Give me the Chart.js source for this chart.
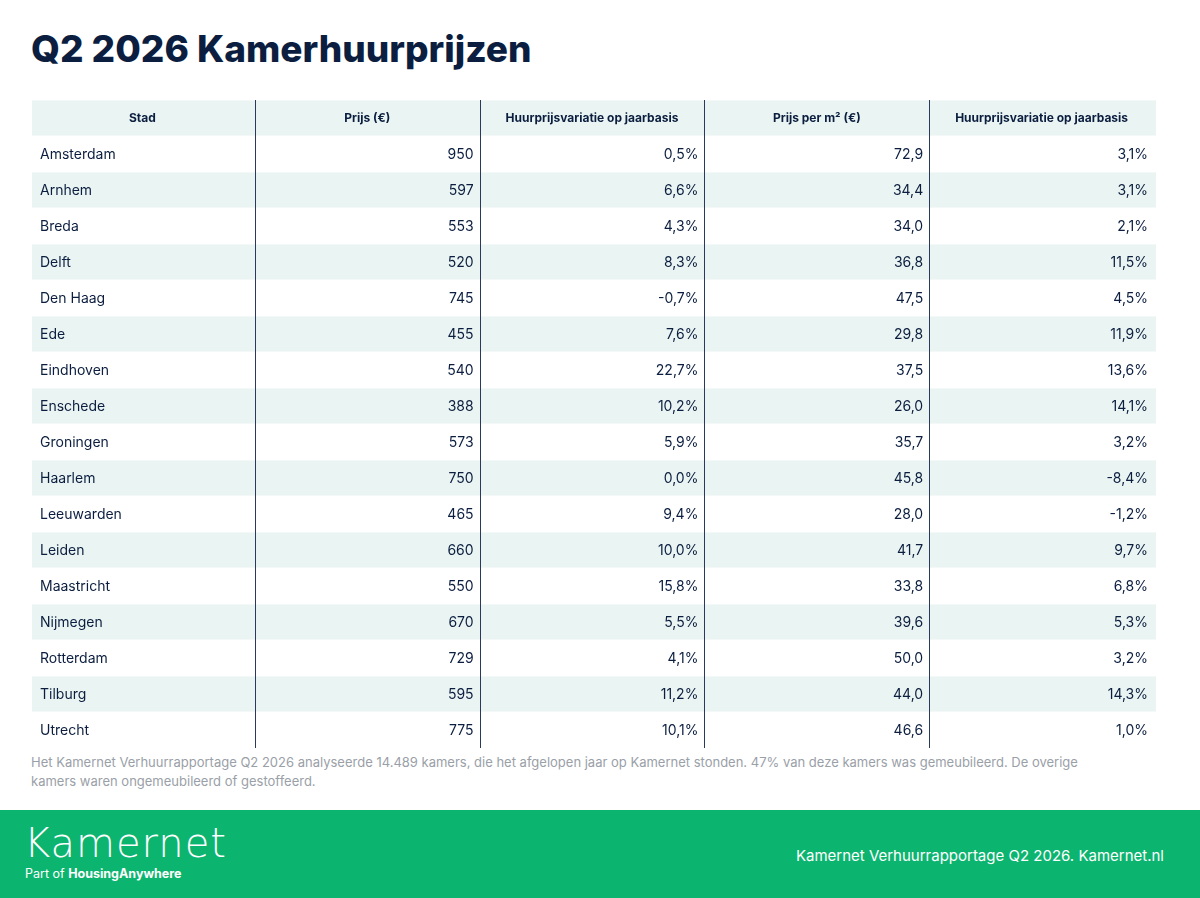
<!DOCTYPE html>
<html><head><meta charset="utf-8">
<script src="https://cdn.jsdelivr.net/npm/chart.js@4"></script>
<style>
  body { margin:0; width:1200px; height:898px; position:relative; font-family: Inter, "Noto Sans", sans-serif; background:#fff; overflow:hidden; }
  h1 { position:absolute; left:31px; top:26px; margin:0; font-size:37px; font-weight:800; color:#0b1e3f; letter-spacing:0px; }
  #wrap { position:absolute; left:32px; top:100px; width:1124px; height:648px; }
  .note { position:absolute; left:31px; top:753px; width:1090px; font-size:13px; line-height:19px; color:#9aa0a8; }
  .foot { position:absolute; left:0; top:810px; width:1200px; height:88px; background:#0bb46f; color:#fff; }
  .logo { position:absolute; left:24px; top:10px; font-size:40px; font-family:"DejaVu Sans", sans-serif; font-weight:300; letter-spacing:1px; }
  .part { position:absolute; left:25px; top:56px; font-size:12.5px; }
  .src { position:absolute; right:36px; top:36px; font-size:15px; }
</style></head>
<body>
<h1>Q2 2026 Kamerhuurprijzen</h1>
<div id="wrap"><canvas id="c"></canvas></div>
<div class="note">Het Kamernet Verhuurrapportage Q2 2026 analyseerde 14.489 kamers, die het afgelopen jaar op Kamernet stonden. 47% van deze kamers was gemeubileerd. De overige kamers waren ongemeubileerd of gestoffeerd.</div>
<div class="foot"><div class="logo">Kamernet</div><div class="part">Part of <b>HousingAnywhere</b></div><div class="src">Kamernet Verhuurrapportage Q2 2026. Kamernet.nl</div></div>
<script>
const headers = ['Stad', 'Prijs (€)', 'Huurprijsvariatie op jaarbasis', 'Prijs per m² (€)', 'Huurprijsvariatie op jaarbasis'];
const cities = ['Amsterdam','Arnhem','Breda','Delft','Den Haag','Ede','Eindhoven','Enschede','Groningen','Haarlem','Leeuwarden','Leiden','Maastricht','Nijmegen','Rotterdam','Tilburg','Utrecht'];
const prices = ['950','597','553','520','745','455','540','388','573','750','465','660','550','670','729','595','775'];
const priceChange = ['0,5%','6,6%','4,3%','8,3%','-0,7%','7,6%','22,7%','10,2%','5,9%','0,0%','9,4%','10,0%','15,8%','5,5%','4,1%','11,2%','10,1%'];
const perM2 = ['72,9','34,4','34,0','36,8','47,5','29,8','37,5','26,0','35,7','45,8','28,0','41,7','33,8','39,6','50,0','44,0','46,6'];
const m2Change = ['3,1%','3,1%','2,1%','11,5%','4,5%','11,9%','13,6%','14,1%','3,2%','-8,4%','-1,2%','9,7%','6,8%','5,3%','3,2%','14,3%','1,0%'];

const rows = ['header', ...cities];
const columns = [cities, prices, priceChange, perM2, m2Change];

const tablePlugin = {
  id: 'table',
  beforeDraw(chart) {
    const { ctx, scales: { x, y } } = chart;
    const left = x.getPixelForValue(0), right = x.getPixelForValue(5);
    const band = y.getPixelForValue(1) - y.getPixelForValue(0);
    ctx.save();
    rows.forEach((r, i) => {
      if (i % 2 === 0) {
        const cy = y.getPixelForValue(i);
        ctx.fillStyle = '#eaf4f2';
        ctx.fillRect(left, cy - band / 2 + 0.5, right - left, band - 1);
      }
    });
    ctx.strokeStyle = '#2a3a5a';
    ctx.lineWidth = 1;
    const top = y.getPixelForValue(0) - band / 2, bottom = y.getPixelForValue(rows.length - 1) + band / 2;
    for (let k = 1; k < 5; k++) {
      const px = Math.round(x.getPixelForValue(k)) - 1.5;
      ctx.beginPath(); ctx.moveTo(px, top); ctx.lineTo(px, bottom); ctx.stroke();
    }
    ctx.textBaseline = 'middle';
    ctx.font = 'bold 12px Inter, sans-serif';
    ctx.fillStyle = '#0b1e3f';
    ctx.textAlign = 'center';
    headers.forEach((h, k) => ctx.fillText(h, x.getPixelForValue(k + 0.5) - 2, y.getPixelForValue(0)));
    ctx.font = '14px Inter, sans-serif';
    columns.forEach((col, k) => {
      col.forEach((v, i) => {
        const cy = y.getPixelForValue(i + 1) + 1;
        if (k === 0) { ctx.textAlign = 'left'; ctx.fillText(v, x.getPixelForValue(0) + 8, cy); }
        else { ctx.textAlign = 'right'; ctx.fillText(v, x.getPixelForValue(k + 1) - 8, cy); }
      });
    });
    ctx.restore();
  }
};

new Chart(document.getElementById('c'), {
  type: 'scatter',
  data: { labels: rows, datasets: [{ data: [] }] },
  options: {
    responsive: true,
    maintainAspectRatio: false,
    animation: false,
    layout: { padding: 0 },
    plugins: { legend: { display: false }, tooltip: { enabled: false } },
    scales: {
      x: { type: 'linear', min: 0, max: 5, display: false },
      y: { type: 'category', labels: rows, offset: true, display: false }
    }
  },
  plugins: [tablePlugin]
});
</script>
</body></html>
